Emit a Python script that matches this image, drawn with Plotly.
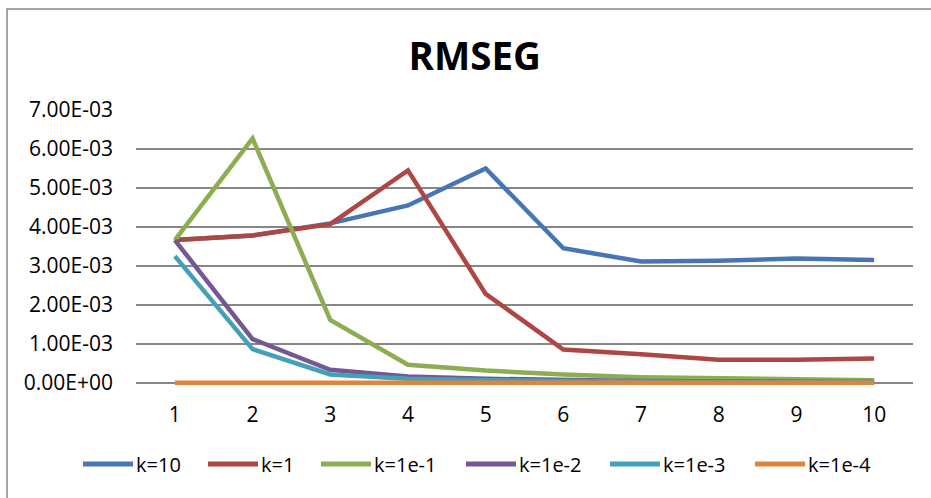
import plotly.graph_objects as go

# Iteration index on the category axis
iterations = [1, 2, 3, 4, 5, 6, 7, 8, 9, 10]

# RMSEG per iteration for each regularisation constant k
k_10 = [3.66e-3, 3.78e-3, 4.09e-3, 4.55e-3, 5.50e-3, 3.45e-3, 3.11e-3, 3.13e-3, 3.19e-3, 3.15e-3]
k_1 = [3.66e-3, 3.78e-3, 4.07e-3, 5.45e-3, 2.28e-3, 0.85e-3, 0.73e-3, 0.59e-3, 0.59e-3, 0.62e-3]
k_1e_1 = [3.66e-3, 6.27e-3, 1.61e-3, 0.46e-3, 0.31e-3, 0.21e-3, 0.14e-3, 0.11e-3, 0.08e-3, 0.06e-3]
k_1e_2 = [3.66e-3, 1.12e-3, 0.33e-3, 0.16e-3, 0.10e-3, 0.06e-3, 0.04e-3, 0.03e-3, 0.03e-3, 0.02e-3]
k_1e_3 = [3.25e-3, 0.86e-3, 0.21e-3, 0.10e-3, 0.06e-3, 0.04e-3, 0.03e-3, 0.02e-3, 0.02e-3, 0.02e-3]
k_1e_4 = [0.0] * 10

series_names = ["k=10", "k=1", "k=1e-1", "k=1e-2", "k=1e-3", "k=1e-4"]
series_values = [k_10, k_1, k_1e_1, k_1e_2, k_1e_3, k_1e_4]
series_colors = ["#4775B5", "#AE4643", "#8DAE50", "#735893", "#42A0B8", "#E0843C"]

y_tick_values = [0, 1e-3, 2e-3, 3e-3, 4e-3, 5e-3, 6e-3, 7e-3]
y_tick_labels = ["0.00E+00", "1.00E-03", "2.00E-03", "3.00E-03",
                 "4.00E-03", "5.00E-03", "6.00E-03", "7.00E-03"]

FONT = "Open Sans"
W, H = 931, 498
M_L, M_R, M_T, M_B = 136, 18, 110, 113
Y_MIN, Y_MAX = -0.06e-3, 7e-3  # small pad below zero so the flat k=1e-4 line is not cut
PLOT_W = W - M_L - M_R
PLOT_H = H - M_T - M_B


def px_x(px):
    """Pixel column -> paper x."""
    return (px - M_L) / PLOT_W


def px_y(py):
    """Pixel row -> paper y."""
    return (H - M_B - py) / PLOT_H


fig = go.Figure()
for name, vals, color in zip(series_names, series_values, series_colors):
    fig.add_trace(go.Scatter(
        x=iterations, y=vals, name=name, mode="lines",
        line=dict(color=color, width=4.5), showlegend=False,
    ))

# Outer chart frame
shapes = [dict(type="rect", xref="paper", yref="paper",
               x0=px_x(7), x1=px_x(945), y0=px_y(515), y1=px_y(9),
               line=dict(color="#868686", width=1.5), layer="below")]
annotations = []

# Legend row beneath the axis: a line sample followed by its label
legend_starts = [83, 208, 321, 466, 610, 755]
LEGEND_Y = 464
SAMPLE_LEN = 50
for start, name, color in zip(legend_starts, series_names, series_colors):
    shapes.append(dict(type="line", xref="paper", yref="paper",
                       x0=px_x(start), x1=px_x(start + SAMPLE_LEN),
                       y0=px_y(LEGEND_Y), y1=px_y(LEGEND_Y),
                       line=dict(color=color, width=5)))
    annotations.append(dict(text=name, xref="paper", yref="paper",
                            x=px_x(start + SAMPLE_LEN + 1), y=px_y(LEGEND_Y),
                            xanchor="left", yanchor="middle", showarrow=False,
                            font=dict(family=FONT, size=20, color="#000000")))

fig.update_layout(
    width=W, height=H,
    margin=dict(l=M_L, r=M_R, t=M_T, b=M_B),
    paper_bgcolor="white", plot_bgcolor="white",
    font=dict(family=FONT, size=21, color="#000000"),
    title=dict(text="<b>RMSEG</b>", font=dict(family=FONT, size=38.5, color="#000000"),
               x=0.51, xanchor="center", y=1 - 57 / H, yanchor="middle"),
    showlegend=False,
    xaxis=dict(
        range=[0.5, 10.5], tickmode="array", tickvals=iterations,
        ticktext=[str(i) for i in iterations],
        showgrid=False, zeroline=False, showline=False, ticks="",
        ticklabelstandoff=15,
    ),
    yaxis=dict(
        range=[Y_MIN, Y_MAX], tickmode="array", tickvals=y_tick_values,
        ticktext=y_tick_labels,
        showgrid=True, gridcolor="#868686", gridwidth=1.5,
        zeroline=False, showline=False, ticks="", ticklabelstandoff=22,
    ),
    shapes=shapes,
    annotations=annotations,
)

fig.write_html("out.html")
